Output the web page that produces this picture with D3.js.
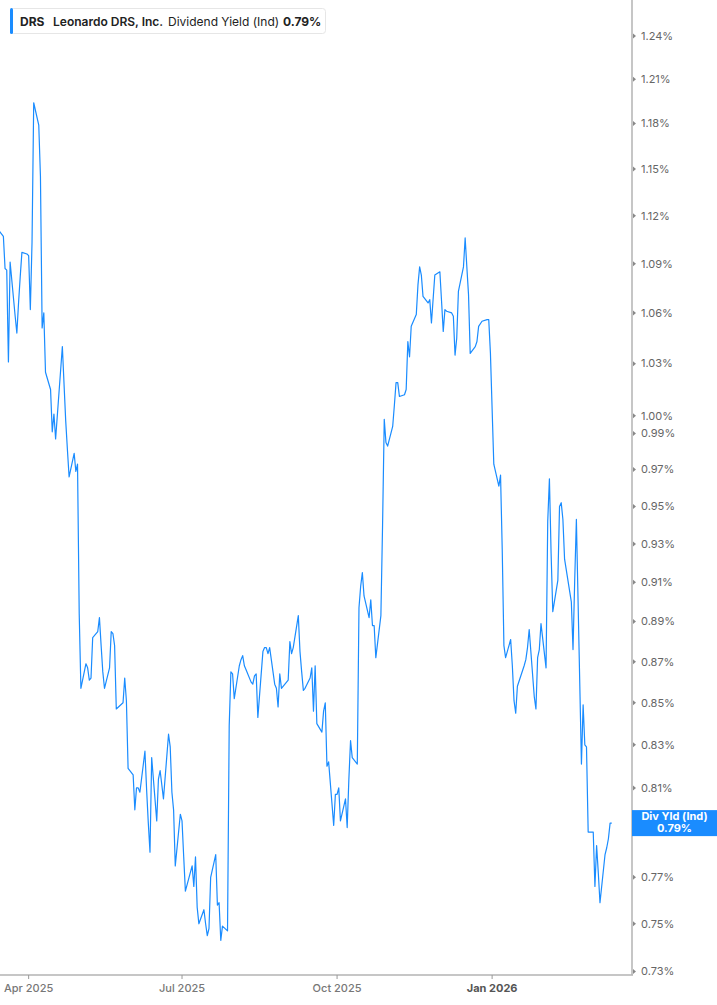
<!DOCTYPE html>
<html>
<head>
<meta charset="utf-8">
<script src="https://cdn.jsdelivr.net/npm/d3@7"></script>
<style>
  body { margin: 0; background: #fff; }
  svg { display: block; font-family: Inter, "Noto Sans", sans-serif; }
  .tickLabel { font-size: 11px; fill: #666; }
  .monthLabel { font-size: 11px; fill: #777; font-weight: 500; }
  .yearLabel { font-size: 11px; fill: #555; font-weight: 700; }
  .legendText { font-size: 12px; fill: #222; }
</style>
</head>
<body>
<div id="chart"></div>
<script>
// first and last trading day shown, and NYSE holidays in between
var firstDay = "2025-03-14";
var lastDay = "2026-03-13";
var holidays = ["2025-04-18", "2025-05-26", "2025-06-19", "2025-07-04", "2025-09-01",
                "2025-11-27", "2025-12-25", "2026-01-01", "2026-01-19", "2026-02-16"];

// dividend yield (ind), %, one value per trading day
var yields = [
  1.111, 1.107, 1.087, 1.086, 1.031, 1.091, 1.058, 1.048, 1.066, 1.082,
  1.097, 1.096, 1.095, 1.062, 1.103, 1.194, 1.179, 1.145, 1.051, 1.060,
  1.025, 1.015, 0.991, 1.001, 0.987, 1.040, 1.018, 0.997, 0.981, 0.966,
  0.979, 0.969, 0.973, 0.894, 0.857, 0.869, 0.867, 0.861, 0.862, 0.882,
  0.885, 0.892, 0.878, 0.865, 0.857, 0.867, 0.885, 0.884, 0.878, 0.847,
  0.850, 0.862, 0.851, 0.819, 0.816, 0.800, 0.810, 0.810, 0.808, 0.827,
  0.809, 0.794, 0.781, 0.824, 0.795, 0.814, 0.818, 0.805, 0.835, 0.829,
  0.808, 0.800, 0.775, 0.798, 0.795, 0.779, 0.764, 0.775, 0.766, 0.779,
  0.757, 0.750, 0.756, 0.750, 0.745, 0.748, 0.770, 0.780, 0.758, 0.759,
  0.743, 0.749, 0.747, 0.839, 0.865, 0.864, 0.852, 0.868, 0.871, 0.873,
  0.868, 0.866, 0.860, 0.859, 0.863, 0.864, 0.843, 0.875, 0.877, 0.877,
  0.874, 0.877, 0.859, 0.857, 0.848, 0.864, 0.857, 0.861, 0.880, 0.874,
  0.877, 0.893, 0.875, 0.865, 0.856, 0.857, 0.862, 0.867, 0.846, 0.868,
  0.840, 0.836, 0.846, 0.850, 0.820, 0.822, 0.793, 0.807, 0.807, 0.810,
  0.795, 0.805, 0.792, 0.814, 0.832, 0.824, 0.821, 0.897, 0.908, 0.915,
  0.903, 0.892, 0.901, 0.888, 0.888, 0.872, 0.893, 0.940, 0.998, 0.985,
  0.983, 0.994, 1.006, 1.019, 1.019, 1.011, 1.012, 1.015, 1.043, 1.034,
  1.052, 1.059, 1.077, 1.088, 1.083, 1.070, 1.066, 1.068, 1.054, 1.083,
  1.085, 1.067, 1.049, 1.062, 1.061, 1.060, 1.058, 1.035, 1.045, 1.073,
  1.088, 1.106, 1.088, 1.071, 1.036, 1.040, 1.043, 1.052, 1.055, 1.056,
  1.056, 1.036, 0.973, 0.961, 0.967, 0.927, 0.878, 0.872, 0.881, 0.868,
  0.851, 0.845, 0.858, 0.868, 0.871, 0.877, 0.886, 0.853, 0.847, 0.872,
  0.876, 0.889, 0.867, 0.942, 0.965, 0.925, 0.895, 0.911, 0.950, 0.952,
  0.943, 0.922, 0.900, 0.876, 0.911, 0.943, 0.821, 0.849, 0.830, 0.829,
  0.790, 0.790, 0.766, 0.784, 0.772, 0.759, 0.780, 0.783, 0.787, 0.794,
  0.794
];

// axis ticks
var yTicks = [0.73, 0.75, 0.77, 0.79, 0.81, 0.83, 0.85, 0.87, 0.89, 0.91, 0.93, 0.95,
              0.97, 0.99, 1.00, 1.03, 1.06, 1.09, 1.12, 1.15, 1.18, 1.21, 1.24];
var xTickDates = ["2025-04-01", "2025-07-01", "2025-10-01", "2026-01-01"];
var xTickLabels = ["Apr 2025", "Jul 2025", "Oct 2025", "Jan 2026"];

var ticker = "DRS";
var company = "Leonardo DRS, Inc.";
var metric = "Dividend Yield (Ind)";
var lastLabel = "Div Yld (Ind)";

var width = 717, height = 1005;
var plotRight = 632, plotBottom = 975;
var blue = "#1a8cff";
var parse = d3.timeParse("%Y-%m-%d");
var fmtDay = d3.timeFormat("%Y-%m-%d");

//builds the list of trading days (weekdays minus holidays)
var tradingDays = [];
d3.timeDay.range(parse(firstDay), d3.timeDay.offset(parse(lastDay), 1)).forEach(function(d){
    var wd = d.getDay();
    if (wd != 0 && wd != 6 && holidays.indexOf(fmtDay(d)) < 0) tradingDays.push(d);
});
var n = Math.min(tradingDays.length, yields.length);
var data = [];
for (var i = 0; i < n; i++) {
    data.push({date: tradingDays[i], value: yields[i]});
}

var svg = d3.select("#chart").append("svg")
    .attr("width", width)
    .attr("height", height);

var xScale = d3.scaleTime()
    .domain([parse("2025-03-15"), parse("2026-03-25")])
    .range([0, plotRight]);

var yScale = d3.scaleLog()
    .domain([0.73, 1.24])
    .range([971.5, 36]);

svg.append("clipPath").attr("id", "plotClip")
    .append("rect")
    .attr("x", 0).attr("y", 0)
    .attr("width", plotRight).attr("height", plotBottom);

// the yield line
var line = d3.line()
    .x(d => xScale(d.date))
    .y(d => yScale(d.value));

svg.append("path")
    .datum(data)
    .attr("clip-path", "url(#plotClip)")
    .attr("fill", "none")
    .attr("stroke", blue)
    .attr("stroke-width", 1.2)
    .attr("stroke-linejoin", "round")
    .attr("d", line);

// right axis
var yAxis = svg.append("g");
yAxis.append("line")
    .attr("x1", plotRight).attr("x2", plotRight)
    .attr("y1", 0).attr("y2", plotBottom)
    .attr("stroke", "#b3b3b3")
    .attr("stroke-width", 1.5);

var yTick = yAxis.selectAll(".ytick")
    .data(yTicks)
    .enter().append("g")
    .attr("class", "ytick")
    .attr("transform", d => "translate(" + plotRight + "," + yScale(d) + ")");

yTick.append("path")
    .attr("d", "M1,-2.5L4,0L1,2.5Z")
    .attr("fill", "#888");

yTick.append("text")
    .attr("class", "tickLabel")
    .attr("x", 9)
    .attr("dy", "0.35em")
    .text(d => d.toFixed(2) + "%");

// bottom axis
var xAxis = svg.append("g");
xAxis.append("line")
    .attr("x1", 0).attr("x2", plotRight + 1)
    .attr("y1", plotBottom).attr("y2", plotBottom)
    .attr("stroke", "#b3b3b3")
    .attr("stroke-width", 1.5);

var xTick = xAxis.selectAll(".xtick")
    .data(xTickDates)
    .enter().append("g")
    .attr("class", "xtick")
    .attr("transform", d => "translate(" + xScale(parse(d)) + "," + plotBottom + ")");

xTick.append("line")
    .attr("y1", 0).attr("y2", 4)
    .attr("stroke", "#999");

xTick.append("text")
    .attr("class", (d, i) => xTickLabels[i].indexOf("Jan") == 0 ? "yearLabel" : "monthLabel")
    .attr("y", 17)
    .attr("text-anchor", "middle")
    .text((d, i) => xTickLabels[i]);

// last value flag on the right axis
var last = data[data.length - 1];
var flagY = yScale(last.value);
svg.append("rect")
    .attr("x", plotRight)
    .attr("y", flagY - 13)
    .attr("width", width - plotRight)
    .attr("height", 26)
    .attr("fill", blue);

svg.append("text")
    .attr("x", (plotRight + width) / 2)
    .attr("y", flagY - 3)
    .attr("text-anchor", "middle")
    .style("font-size", "11px")
    .style("font-weight", 700)
    .attr("fill", "#fff")
    .text(lastLabel);

svg.append("text")
    .attr("x", (plotRight + width) / 2)
    .attr("y", flagY + 9)
    .attr("text-anchor", "middle")
    .style("font-size", "11px")
    .style("font-weight", 700)
    .attr("fill", "#fff")
    .text(last.value.toFixed(2) + "%");

// legend box at the top left
var legend = svg.append("g");
legend.append("rect")
    .attr("x", 10.5).attr("y", 8.5)
    .attr("width", 315).attr("height", 25)
    .attr("rx", 3)
    .attr("fill", "#fff")
    .attr("stroke", "#e6e6e6");
legend.append("rect")
    .attr("x", 10).attr("y", 8)
    .attr("width", 3).attr("height", 26)
    .attr("rx", 1.5)
    .attr("fill", blue);

var legendParts = [
    {text: ticker, x: 20, weight: 700},
    {text: company, x: 53, weight: 600},
    {text: metric, x: 168, weight: 400},
    {text: last.value.toFixed(2) + "%", x: 283, weight: 700}
];
legend.selectAll(".legendText")
    .data(legendParts)
    .enter().append("text")
    .attr("class", "legendText")
    .attr("x", d => d.x)
    .attr("y", 25.5)
    .style("font-weight", d => d.weight)
    .text(d => d.text);
</script>
</body>
</html>
